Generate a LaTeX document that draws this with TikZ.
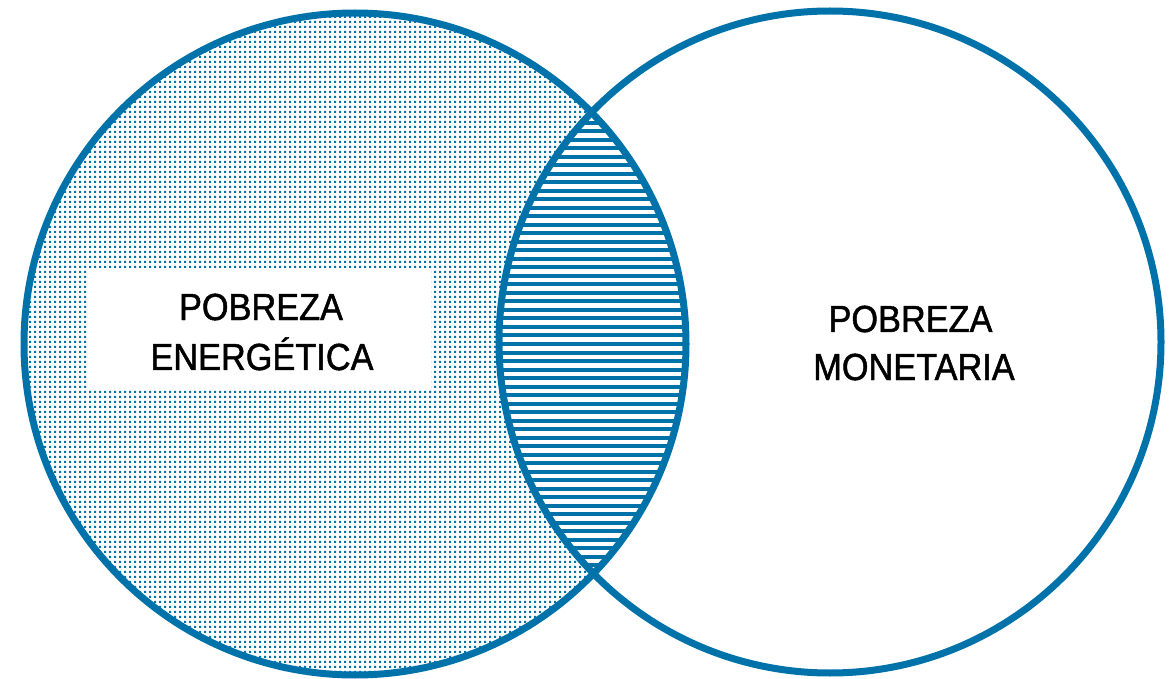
\documentclass[tikz,border=0pt]{standalone}
\usepackage{fontspec}
\setmainfont{Liberation Sans}
\newfontfamily\labelfont[FakeStretch=0.91,FakeBold=1.3]{Liberation Sans}
\usetikzlibrary{patterns.meta}
\definecolor{vennblue}{RGB}{0,114,170}
\pgfdeclarepattern{name=vdots, type=uncolored,
  bottom left={\pgfpoint{0pt}{0pt}}, top right={\pgfpoint{4.6pt}{4.6pt}},
  tile size={\pgfpoint{4.6pt}{4.6pt}},
  code={\pgfpathrectangle{\pgfpoint{1.1pt}{1.1pt}}{\pgfpoint{2.4pt}{2.4pt}}\pgfusepath{fill}}}
\begin{document}
\begin{tikzpicture}[x=1pt,y=-1pt,
  ring/.style={draw=vennblue, line width=7pt},
  stripe/.style={fill=vennblue},
  vlabel/.style={font=\labelfont\fontsize{37.7}{50}\selectfont, text=black, inner sep=0pt, anchor=base}]
\useasboundingbox (0,0) rectangle (1171,679);
% left set: dotted fill
\fill[pattern=vdots, pattern color=vennblue] (355,344) circle[radius=331];
% intersection: horizontal stripes
\begin{scope}
  \clip (355,344) circle[radius=331];
  \clip (830,342) circle[radius=331];
  \fill[white] (480,100) rectangle (700,600);
  \foreach \k in {0,...,56} {
    \fill[stripe] (480,{104+8.5*\k}) rectangle (700,{108+8.5*\k});
  }
\end{scope}
% white label box
\node[fill=white, minimum width=343pt, minimum height=122pt, inner sep=0pt] (box) at (259.5,329) {};
\node[vlabel] (peA) at (261,320) {POBREZA};
\node[vlabel] (peB) at (262,370) {ENERGÉTICA};
\node[vlabel] (pmA) at (910.5,332) {POBREZA};
\node[vlabel] (pmB) at (914,380) {MONETARIA};
% outlines
\draw[ring] (355,344) circle[radius=331];
\draw[ring] (830,342) circle[radius=331];
\end{tikzpicture}
\end{document}
